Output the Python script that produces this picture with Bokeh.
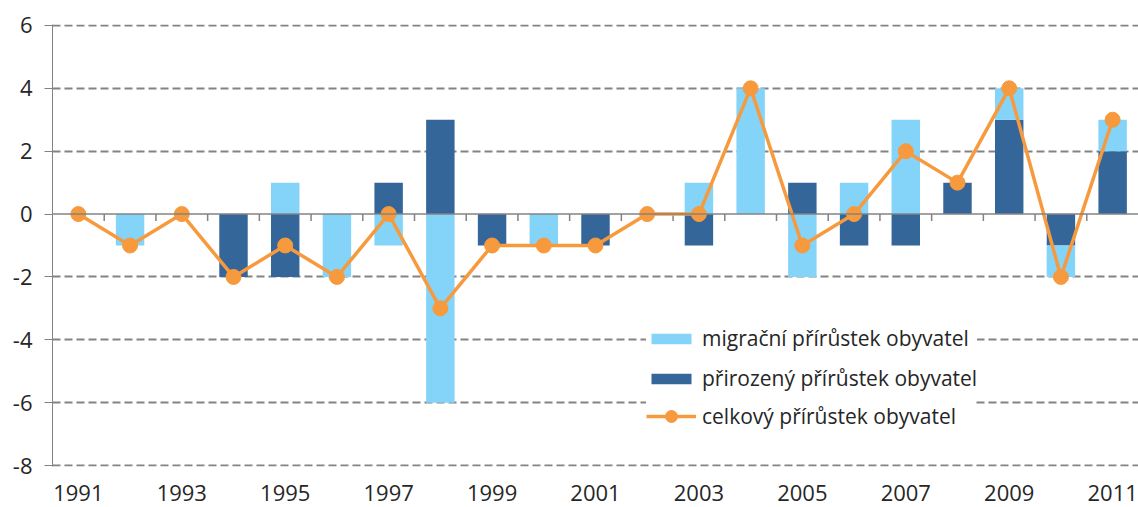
import math
from bokeh.plotting import figure
from bokeh.models import FixedTicker, Legend, LegendItem, Span, ColumnDataSource, Range1d
from bokeh.embed import file_html
from bokeh.resources import INLINE

years = list(range(1991, 2012))
migracni = [0, -1, 0, 0, 1, -2, -1, -6, 0, -1, 0, 0, 1, 4, -2, 1, 3, 0, 1, -1, 1]
prirozeny = [0, 0, 0, -2, -2, 0, 1, 3, -1, 0, -1, 0, -1, 0, 1, -1, -1, 1, 3, -1, 2]
celkovy = [0, -1, 0, -2, -1, -2, 0, -3, -1, -1, -1, 0, 0, 4, -1, 0, 2, 1, 4, -2, 3]

label_migr = "migrační přírůstek obyvatel"
label_prir = "přirozený přírůstek obyvatel"
label_celk = "celkový přírůstek obyvatel"

y_ticks = [-8, -6, -4, -2, 0, 2, 4, 6]
x_label_years = [y for y in years if y % 2 == 1]

LIGHT = "#84D4FA"
DARK = "#346699"
ORANGE = "#F79A3E"
GRID = "#838383"
TEXT = "#262626"
FONT = "Open Sans"

# stacked positions: natural first from zero, migration stacked on same-sign side
m_bottom, m_top = [], []
for m, d in zip(migracni, prirozeny):
    if m * d > 0:
        m_bottom.append(d)
        m_top.append(d + m)
    else:
        m_bottom.append(0)
        m_top.append(m)

src = ColumnDataSource(dict(x=years, m_bottom=m_bottom, m_top=m_top,
                            d=prirozeny, zero=[0] * len(years), total=celkovy))

p = figure(width=1138, height=507, output_backend="svg", toolbar_location=None,
           x_range=Range1d(years[0] - 0.5, years[-1] + 0.5),
           y_range=Range1d(y_ticks[0] - 0.03, y_ticks[-1] + 0.03),
           min_border_left=52, min_border_top=24, min_border_right=0, min_border_bottom=41)
p.outline_line_color = None
p.background_fill_color = "white"

# grid
p.xgrid.grid_line_color = None
p.ygrid.ticker = FixedTicker(ticks=[t for t in y_ticks if t != 0])
p.ygrid.grid_line_color = GRID
p.ygrid.grid_line_width = 2
p.ygrid.grid_line_dash = "8 4"

# y axis
p.yaxis.ticker = FixedTicker(ticks=y_ticks)
p.yaxis.major_label_overrides = {t: str(t) for t in y_ticks}
p.yaxis.axis_line_color = GRID
p.yaxis.major_tick_line_color = GRID
p.yaxis.major_tick_out = 8
p.yaxis.major_tick_in = 0
p.yaxis.minor_tick_line_color = None
p.yaxis.major_label_text_font = FONT
p.yaxis.major_label_text_font_size = "22px"
p.yaxis.major_label_text_color = TEXT
p.yaxis.major_label_standoff = 12

# x axis (labels only, at bottom)
p.xaxis.ticker = FixedTicker(ticks=x_label_years)
p.xaxis.major_label_overrides = {y: str(y) for y in x_label_years}
p.xaxis.axis_line_color = None
p.xaxis.major_tick_line_color = None
p.xaxis.minor_tick_line_color = None
p.xaxis.major_tick_out = 0
p.xaxis.major_tick_in = 0
p.xaxis.major_label_text_font = FONT
p.xaxis.major_label_text_font_size = "22px"
p.xaxis.major_label_text_color = TEXT
p.xaxis.major_label_standoff = 18

# bars
r_dark = p.vbar(x="x", bottom="zero", top="d", width=0.55, source=src,
                fill_color=DARK, line_color=None)
r_light = p.vbar(x="x", bottom="m_bottom", top="m_top", width=0.55, source=src,
                 fill_color=LIGHT, line_color=None)

# category axis line at zero with tick marks between categories
p.add_layout(Span(location=0, dimension="width", line_color=GRID, line_width=1.5))
tick_x = [y + 0.5 for y in years[:-1]]
p.ray(x=tick_x, y=[0] * len(tick_x), length=7, length_units="screen",
      angle=-math.pi / 2, line_color=GRID, line_width=1.5)

# total line
r_line = p.line(x="x", y="total", source=src, line_color=ORANGE, line_width=3.5)
r_pts = p.scatter(x="x", y="total", source=src, size=15, marker="circle",
                  fill_color=ORANGE, line_color=ORANGE)

common = dict(label_text_font=FONT, label_text_font_size="21px", label_text_color=TEXT,
              glyph_width=50, label_standoff=6, label_width=272, padding=8,
              background_fill_color="white", background_fill_alpha=1.0,
              border_line_color=None, label_height=24)

leg1 = Legend(items=[LegendItem(label=label_migr, renderers=[r_light]),
                     LegendItem(label=label_prir, renderers=[r_dark])],
              location=(594, 74), glyph_height=13, spacing=12, **common)
leg2 = Legend(items=[LegendItem(label=label_celk, renderers=[r_line, r_pts])],
              location=(594, 35), glyph_height=30, spacing=0, **common)
p.add_layout(leg1)
p.add_layout(leg2)

open("out.html", "w").write(file_html(p, INLINE))
